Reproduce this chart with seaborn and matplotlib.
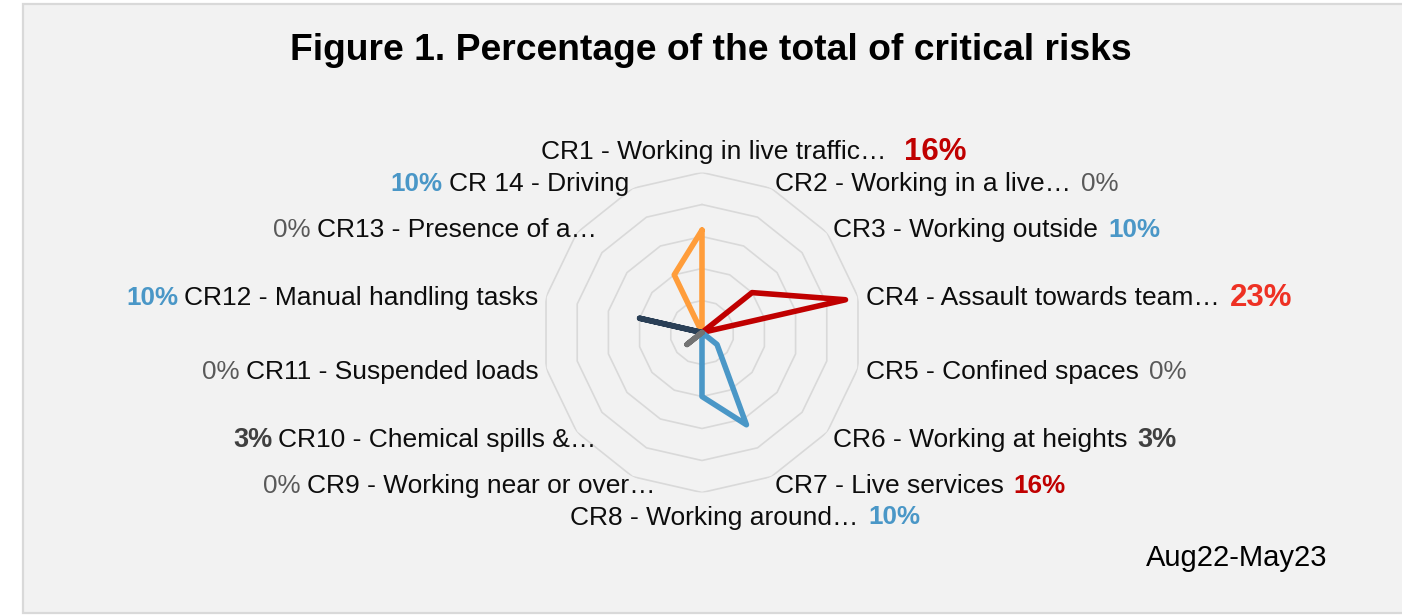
import numpy as np
import pandas as pd
import matplotlib
matplotlib.use("Agg")
import matplotlib.pyplot as plt
from matplotlib.patches import Rectangle
import seaborn as sns

# ---------------- data ----------------
categories = [
    "CR1 - Working in live traffic…",
    "CR2 - Working in a live…",
    "CR3 - Working outside",
    "CR4 - Assault towards team…",
    "CR5 - Confined spaces",
    "CR6 - Working at heights",
    "CR7 - Live services",
    "CR8 - Working around…",
    "CR9 - Working near or over…",
    "CR10 - Chemical spills &…",
    "CR11 - Suspended loads",
    "CR12 - Manual handling tasks",
    "CR13 - Presence of a…",
    "CR 14 - Driving",
]
values = [16, 0, 10, 23, 0, 3, 16, 10, 0, 3, 0, 10, 0, 10]
series_orange = [16, 0, 0, 0, 0, 0, 0, 0, 0, 0, 0, 0, 0, 10]
series_red = [0, 0, 10, 23, 0, 0, 0, 0, 0, 0, 0, 0, 0, 0]
series_blue = [0, 0, 0, 0, 0, 3, 16, 10, 0, 0, 0, 0, 0, 0]
series_navy = [0, 0, 0, 0, 0, 0, 0, 0, 0, 0, 0, 10, 0, 0]
series_gray = [0, 0, 0, 0, 0, 0, 0, 0, 0, 3, 0, 0, 0, 0]
subtitle = "Aug22-May23"
title = "Figure 1. Percentage of the total of critical risks"

# ---------------- style ----------------
sns.set_theme(style="white")
plt.rcParams["font.family"] = ["Liberation Sans", "DejaVu Sans"]

W, H = 1402, 616
fig = plt.figure(figsize=(W / 100, H / 100), dpi=100)
fig.patch.set_facecolor("white")
fig.patches.append(Rectangle((22.5 / W, 3.5 / H), (W + 20) / W, (H - 7.5) / H,
                             transform=fig.transFigure, facecolor="#f2f2f2",
                             edgecolor="#d9d9d9", linewidth=1.6, zorder=-10))

cx, cy, R = 702, 332.5, 160
ax = fig.add_axes([(cx - R) / W, (H - cy - R) / H, 2 * R / W, 2 * R / H], projection="polar")
ax.set_facecolor("none")
ax.set_theta_zero_location("N")
ax.set_theta_direction(-1)
rmax = 25

n = len(categories)
angles = np.linspace(0, 2 * np.pi, n, endpoint=False)

# polygon grid rings
ring_th = np.append(angles, angles[0])
for r in range(5, rmax + 1, 5):
    ax.plot(ring_th, np.full(len(ring_th), r), color="#d9d9d9", lw=1.2, zorder=1)

series = {
    "orange": series_orange,
    "red": series_red,
    "blue": series_blue,
    "navy": series_navy,
    "gray": series_gray,
}
palette = {"orange": "#FF9D3B", "red": "#C00000", "blue": "#4A97C7",
           "navy": "#2A3F56", "gray": "#737373"}
rows = []
closed_angles = list(angles) + [2 * np.pi]
for name, vals in series.items():
    closed_vals = list(vals) + [vals[0]]
    for th, v in zip(closed_angles, closed_vals):
        rows.append({"series": name, "theta": th, "value": v})
df = pd.DataFrame(rows)
sns.lineplot(data=df, x="theta", y="value", hue="series", palette=palette,
             sort=False, estimator=None, legend=False, ax=ax, lw=4.0,
             solid_capstyle="round", solid_joinstyle="round", zorder=3)

ax.set_ylim(0, rmax)
ax.grid(False)
ax.spines["polar"].set_visible(False)
ax.set_xticks([])
ax.set_yticks([])
ax.set_xlabel("")
ax.set_ylabel("")


def value_style(v, i):
    if v == 0:
        return dict(color="#595959", fontweight="normal", fontsize=18.7)
    if v == 10:
        return dict(color="#4A97C7", fontweight="bold", fontsize=18.7)
    if v == 3:
        return dict(color="#404040", fontweight="bold", fontsize=19.5)
    if v == 23:
        return dict(color="#EE3124", fontweight="bold", fontsize=22.5)
    if v == 16:
        return dict(color="#C00000", fontweight="bold", fontsize=22.5 if i == 0 else 18.7)
    return dict(color="black")


nudge_x = {8: 26, 9: 26, 12: 26}
for i, (cat, v) in enumerate(zip(categories, values)):
    th = angles[i]
    s, c = np.sin(th), np.cos(th)
    dx, dy = 8 * s, 8 * c
    if i == 0:
        ha, va = "center", "bottom"
        dx += 12
    elif i == n // 2:
        ha, va = "center", "top"
        dx += 12
        dy -= 5
    elif s > 0:
        ha, va = "left", "center"
        dy -= 2.5
    else:
        ha, va = "right", "center"
        dy -= 2.5
    dx += nudge_x.get(i, 0)
    t = ax.annotate(cat, xy=(th, rmax), xytext=(dx, dy), textcoords="offset pixels",
                    ha=ha, va=va, fontsize=19, color="#0d0d0d", annotation_clip=False)
    label = f"{v}%"
    if ha == "right":
        ax.annotate(label, xy=(0, 0.5), xycoords=t, xytext=(-6, 0), textcoords="offset pixels",
                    ha="right", va="center", annotation_clip=False, **value_style(v, i))
    else:
        gap = 17 if i == 0 else 10
        ax.annotate(label, xy=(1, 0.5), xycoords=t, xytext=(gap, 0), textcoords="offset pixels",
                    ha="left", va="center", annotation_clip=False, **value_style(v, i))

fig.text(711 / W, 1 - 50 / H, title, ha="center", va="center", fontsize=26.8,
         fontweight="bold", color="black")
fig.text(1327 / W, 1 - 558 / H, subtitle, ha="right", va="center", fontsize=21, color="black")

fig.savefig("out.png", dpi=100, facecolor=fig.get_facecolor())
